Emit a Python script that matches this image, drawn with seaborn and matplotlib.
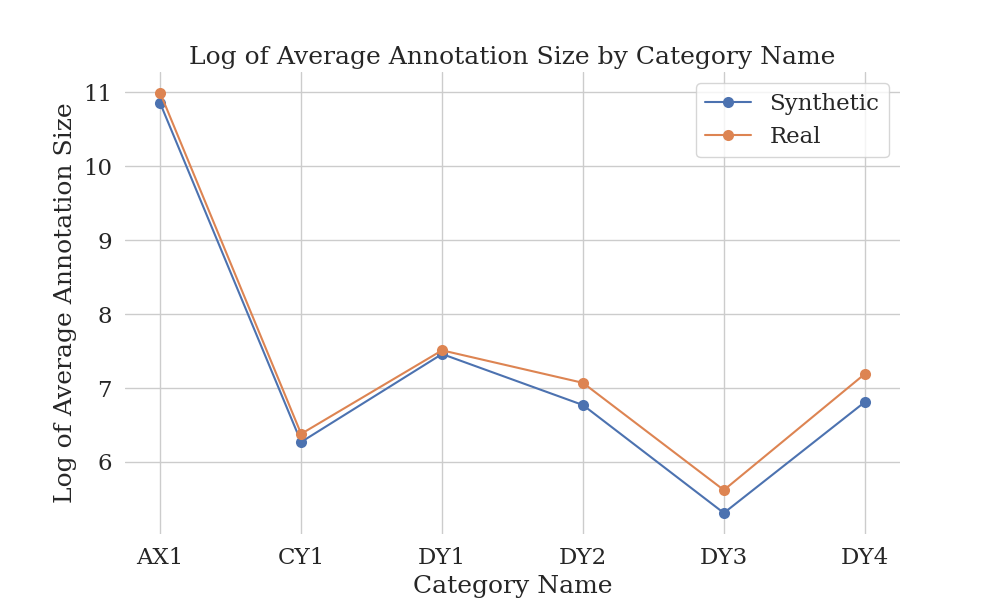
import pandas as pd
import matplotlib
matplotlib.use("Agg")
import matplotlib.pyplot as plt
import seaborn as sns

categories = ['AX1', 'CY1', 'DY1', 'DY2', 'DY3', 'DY4']
synthetic = [10.85, 6.27, 7.46, 6.77, 5.31, 6.81]
real = [10.99, 6.38, 7.51, 7.07, 5.62, 7.19]

df = pd.DataFrame({
    'Category Name': categories * 2,
    'Log of Average Annotation Size': synthetic + real,
    'Type': ['Synthetic'] * len(categories) + ['Real'] * len(categories),
})

sns.set_theme(style='whitegrid', font_scale=1.5)
plt.rcParams['font.family'] = 'serif'

fig, ax = plt.subplots(figsize=(10, 6), dpi=100)
sns.lineplot(data=df, x='Category Name', y='Log of Average Annotation Size',
             hue='Type', marker='o', markersize=8, markeredgewidth=0, ax=ax)
ax.set_title('Log of Average Annotation Size by Category Name')
ax.legend(title=None)
sns.despine(left=True, bottom=True)
plt.savefig('out.png')
